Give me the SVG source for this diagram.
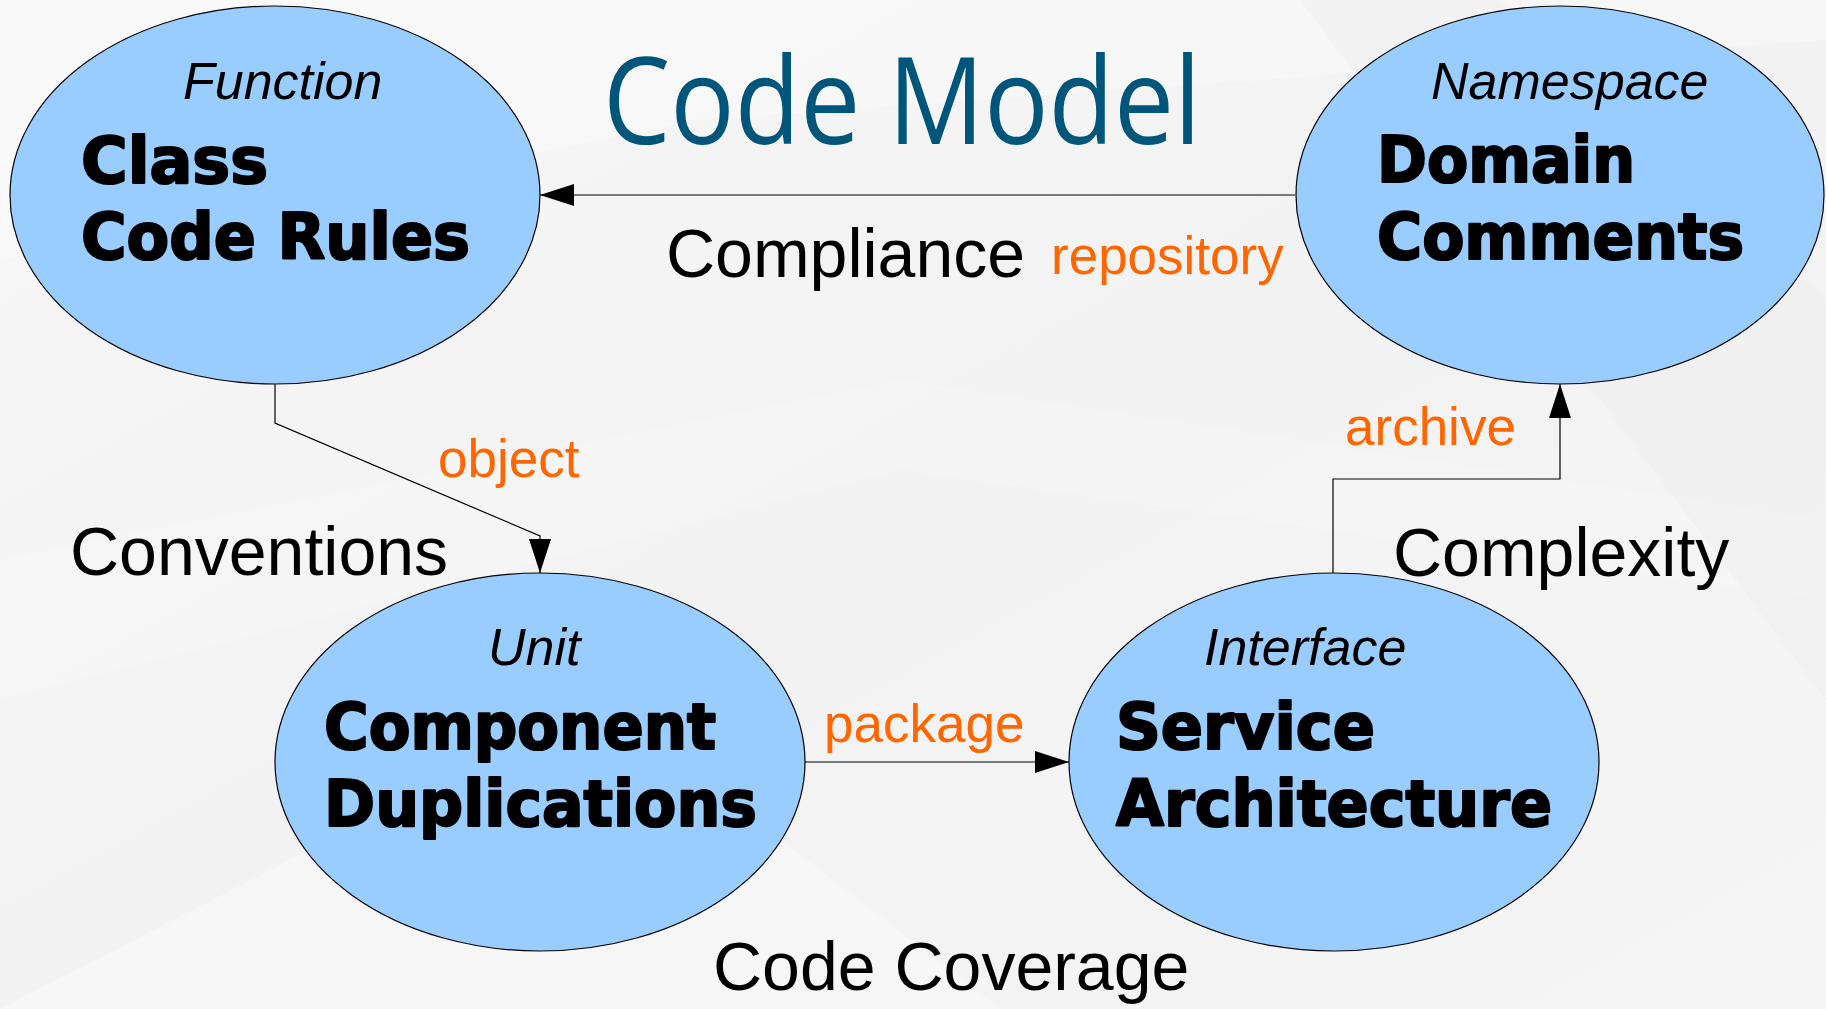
<svg xmlns="http://www.w3.org/2000/svg" width="1826" height="1009" viewBox="0 0 1826 1009">
  <defs>
    <linearGradient id="bg" x1="0" y1="0" x2="1" y2="1">
      <stop offset="0" stop-color="#f7f7f7"/>
      <stop offset="0.5" stop-color="#f2f2f2"/>
      <stop offset="1" stop-color="#f5f5f5"/>
    </linearGradient>
    <marker id="arrow" markerUnits="userSpaceOnUse" markerWidth="34" markerHeight="22" viewBox="0 0 34 22" refX="34" refY="11" orient="auto">
      <path d="M0,0 L34,11 L0,22 Z" fill="#000"/>
    </marker>
    <style>
      .node { fill: #99ccff; stroke: #000; stroke-width: 1.2; }
      .kind { font-family: "Liberation Sans", Arial, sans-serif; font-style: italic; font-size: 52px; fill: #000; }
      .name { font-family: "DejaVu Sans", sans-serif; font-weight: bold; font-size: 64px; fill: #000; stroke: #000; stroke-width: 2.2; stroke-linejoin: round; }
      .lbl { font-family: "Liberation Sans", Arial, sans-serif; font-size: 68px; fill: #000; }
      .rel { font-family: "Liberation Sans", Arial, sans-serif; font-size: 53px; fill: #ff6600; }
      .title { font-family: "Open Sans", "Noto Sans", sans-serif; font-size: 120px; fill: #00567a; }
      .conn { fill: none; stroke: #000; stroke-width: 1.2; }
    </style>
  </defs>

  <g id="background">
    <rect x="0" y="0" width="1826" height="1009" fill="url(#bg)"/>
    <path d="M0,260 L700,120 L1826,40 L1826,0 L0,0 Z" fill="#ffffff" opacity="0.3"/>
    <path d="M0,560 L900,380 L1826,520 L1826,600 L900,470 L0,700 Z" fill="#ffffff" opacity="0.2"/>
    <path d="M1500,0 L1826,300 L1826,700 L1300,0 Z" fill="#ebebeb" opacity="0.35"/>
    <path d="M0,1009 L600,700 L1000,1009 Z" fill="#ffffff" opacity="0.3"/>
  </g>

  <g id="title">
    <text class="title" x="603" y="144" textLength="598" lengthAdjust="spacingAndGlyphs">Code Model</text>
  </g>

  <g id="connectors">
    <path class="conn" d="M1295,195 L540,195" marker-end="url(#arrow)"/>
    <path class="conn" d="M275,384 L275,423 L540,536 L540,573" marker-end="url(#arrow)"/>
    <path class="conn" d="M805,762 L1069,762" marker-end="url(#arrow)"/>
    <path class="conn" d="M1333,573 L1333,479 L1560,479 L1560,384" marker-end="url(#arrow)"/>
    <text class="lbl" x="666" y="277">Compliance</text>
    <text class="rel" x="1051" y="274">repository</text>
    <text class="rel" x="438" y="477">object</text>
    <text class="lbl" x="70" y="575">Conventions</text>
    <text class="rel" x="1345" y="445">archive</text>
    <text class="lbl" x="1393" y="576">Complexity</text>
    <text class="rel" x="824" y="742">package</text>
    <text class="lbl" x="713" y="990">Code Coverage</text>
  </g>

  <g id="node-function">
    <ellipse class="node" cx="275" cy="195" rx="265" ry="189"/>
    <text class="kind" x="183" y="99">Function</text>
    <text class="name" x="81" y="183" textLength="187" lengthAdjust="spacingAndGlyphs">Class</text>
    <text class="name" x="81" y="259" textLength="389" lengthAdjust="spacingAndGlyphs">Code Rules</text>
  </g>

  <g id="node-namespace">
    <ellipse class="node" cx="1560" cy="195" rx="264" ry="189"/>
    <text class="kind" x="1431" y="99">Namespace</text>
    <text class="name" x="1377" y="182" textLength="258" lengthAdjust="spacingAndGlyphs">Domain</text>
    <text class="name" x="1377" y="259" textLength="367" lengthAdjust="spacingAndGlyphs">Comments</text>
  </g>

  <g id="node-unit">
    <ellipse class="node" cx="540" cy="762" rx="265" ry="189"/>
    <text class="kind" x="488" y="665">Unit</text>
    <text class="name" x="324" y="749" textLength="392" lengthAdjust="spacingAndGlyphs">Component</text>
    <text class="name" x="324" y="826" textLength="433" lengthAdjust="spacingAndGlyphs">Duplications</text>
  </g>

  <g id="node-interface">
    <ellipse class="node" cx="1334" cy="762" rx="265" ry="189"/>
    <text class="kind" x="1204" y="665">Interface</text>
    <text class="name" x="1116" y="749" textLength="259" lengthAdjust="spacingAndGlyphs">Service</text>
    <text class="name" x="1116" y="826" textLength="436" lengthAdjust="spacingAndGlyphs">Architecture</text>
  </g>
</svg>
